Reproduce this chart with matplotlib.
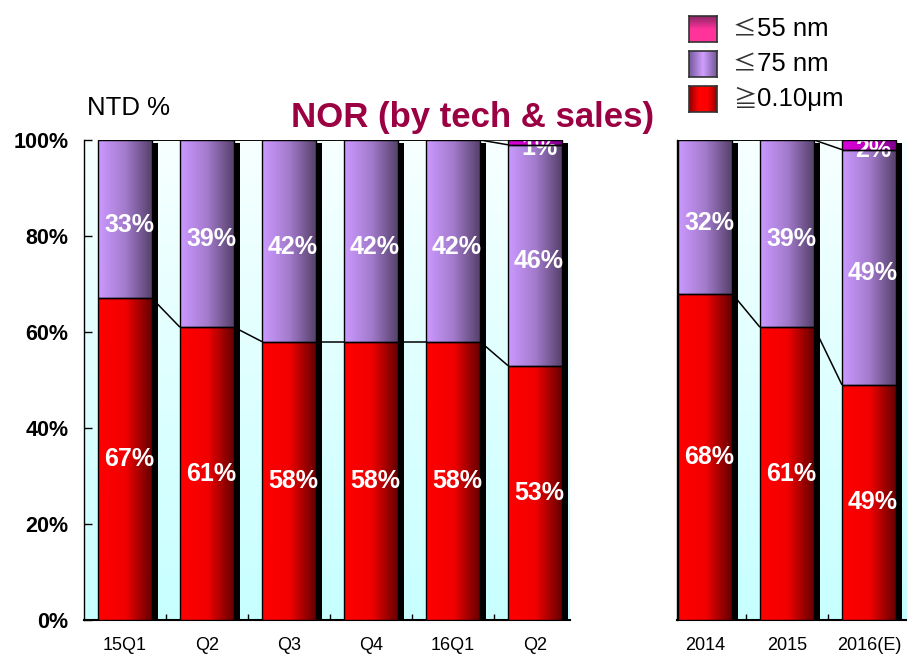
import numpy as np
import matplotlib
matplotlib.use('Agg')
import matplotlib.pyplot as plt
from matplotlib.patches import Rectangle

plt.rcParams['font.family'] = ['Liberation Sans', 'DejaVu Sans']

# ---------------- data ----------------
quarters = ['15Q1', 'Q2', 'Q3', 'Q4', '16Q1', 'Q2']
q_ge010 = [67, 61, 58, 58, 58, 53]
q_le75 = [33, 39, 42, 42, 42, 46]
q_le55 = [0, 0, 0, 0, 0, 1]

years = ['2014', '2015', '2016(E)']
y_ge010 = [68, 61, 49]
y_le75 = [32, 39, 49]
y_le55 = [0, 0, 2]

series_symbols = ['≤', '≤', '≧']
series_names = ['55 nm', '75 nm', '0.10μm']
y_ticks = [0, 20, 40, 60, 80, 100]
y_ticklabels = ['0%', '20%', '40%', '60%', '80%', '100%']
title = 'NOR (by tech & sales)'
unit_label = 'NTD %'

# ---------------- style ----------------
W, H = 907, 655
PX = 82.0          # pixels per category slot
BAR_W = 0.66
SHADOW_DX = 6 / PX
RED = [(1.0, 0.0, 0.0), (0.95, 0.0, 0.0), (0.38, 0.0, 0.0)]
PURPLE = [(0.80, 0.60, 1.0), (0.64, 0.48, 0.80), (0.33, 0.25, 0.41)]
PINK = [(0.85, 0.0, 0.85), (0.75, 0.0, 0.75), (0.50, 0.0, 0.55)]
BG_TOP = np.array([0.97, 1.0, 1.0])
BG_BOT = np.array([0.78, 1.0, 1.0])
LABEL_FS = 18

fig = plt.figure(figsize=(W / 100, H / 100), dpi=100)


def hgrad(stops, n=64):
    stops = np.array(stops)
    t = np.linspace(0, 1, n)
    pos = np.linspace(0, 1, len(stops))
    rgb = np.stack([np.interp(t, pos, stops[:, c]) for c in range(3)], axis=-1)
    return rgb[None, :, :]


def draw_panel(ax, cats, ge010, le75, le55, xlim):
    ax.set_xlim(*xlim)
    ax.set_ylim(0, 100)
    # background vertical gradient
    t = np.linspace(0, 1, 128)[:, None]
    bg = BG_BOT[None, :] * (1 - t) + BG_TOP[None, :] * t
    ax.imshow(bg[:, None, :], extent=(xlim[0], xlim[1], 0, 100), origin='lower',
              aspect='auto', zorder=0, interpolation='bilinear')
    n = len(cats)
    tops = []
    for i in range(n):
        segs = [(ge010[i], RED), (le75[i], PURPLE), (le55[i], PINK)]
        x0 = i - BAR_W / 2
        total = sum(s[0] for s in segs)
        ax.add_patch(Rectangle((x0 + SHADOW_DX, 0), BAR_W, total - 0.6,
                               facecolor='black', edgecolor='none', zorder=2))
        b = 0
        cum = []
        for v, cols in segs:
            if v > 0:
                ax.imshow(hgrad(cols), extent=(x0, x0 + BAR_W, b, b + v),
                          aspect='auto', zorder=3, interpolation='bilinear')
                ax.add_patch(Rectangle((x0, b), BAR_W, v, facecolor='none',
                                       edgecolor='black', linewidth=1.0, zorder=4))
            b += v
            cum.append(b)
        tops.append(cum)
        # labels
        lx = i + 0.05
        ax.text(lx, ge010[i] / 2, f'{ge010[i]}%', color='white', fontsize=LABEL_FS,
                fontweight='bold', ha='center', va='center', zorder=6)
        ax.text(lx, ge010[i] + le75[i] / 2 - 1.2, f'{le75[i]}%', color='white',
                fontsize=LABEL_FS, fontweight='bold', ha='center', va='center', zorder=6)
        if le55[i] > 0:
            ax.text(lx, ge010[i] + le75[i] + le55[i] / 2 - 1.1, f'{le55[i]}%',
                    color='white', fontsize=LABEL_FS, fontweight='bold', ha='center',
                    va='center', zorder=3.5, clip_on=False)
    # connectors
    for i in range(n - 1):
        for k in range(3):
            ax.plot([i + BAR_W / 2, i + 1 - BAR_W / 2], [tops[i][k], tops[i + 1][k]],
                    color='black', linewidth=1.1, zorder=2.5, solid_capstyle='butt')
    ax.set_xticks(range(n))
    ax.set_xticklabels(cats, fontsize=13)
    ax.set_xticks([i + 0.5 for i in range(n - 1)], minor=True)
    ax.tick_params(axis='x', which='major', length=0, pad=12)
    ax.tick_params(axis='x', which='minor', direction='in', length=4, width=1)
    for s in ['top', 'right']:
        ax.spines[s].set_visible(False)
    ax.spines['left'].set_linewidth(1.0)
    ax.spines['bottom'].set_linewidth(1.5)
    ax.patch.set_facecolor('white')


# left panel
ax1 = fig.add_axes([84 / W, (H - 620) / H, (570 - 84) / W, 480 / H])
draw_panel(ax1, quarters, q_ge010, q_le75, q_le55,
           (-0.5, -0.5 + (570 - 84) / PX))
ax1.set_yticks(y_ticks)
ax1.set_yticklabels(y_ticklabels, fontsize=15.5, fontweight='bold')
ax1.tick_params(axis='y', direction='in', length=6, width=1, pad=11)

# right panel
x_left = -(705 - 677) / PX
ax2 = fig.add_axes([677 / W, (H - 620) / H, (907 - 677) / W, 480 / H])
draw_panel(ax2, years, y_ge010, y_le75, y_le55, (x_left, x_left + (907 - 677) / PX))
ax2.set_yticks([])

# titles
fig.text(473 / W, 1 - 118 / H, title, fontsize=25, fontweight='bold',
         color='#9a0042', ha='center', va='center')
fig.text(87 / W, 1 - 108 / H, unit_label, fontsize=18.5, ha='left', va='center')

# legend
leg_boxes = [
    (16, 'v', [(0.55, 0.15, 0.40), (1.0, 0.2, 0.6), (1.0, 0.2, 0.6)]),
    (51, 'h', [(0.45, 0.35, 0.6), (0.82, 0.62, 1.0), (0.45, 0.35, 0.6)]),
    (86, 'h', [(0.55, 0.0, 0.0), (1.0, 0.0, 0.0), (1.0, 0.0, 0.0), (0.6, 0.0, 0.0)]),
]
for (top, orient, cols), sym, name in zip(leg_boxes, series_symbols, series_names):
    lax = fig.add_axes([689 / W, 1 - (top + 26) / H, 28 / W, 26 / H])
    g = hgrad(cols)
    if orient == 'v':
        g = np.transpose(g, (1, 0, 2))
        lax.imshow(g, aspect='auto', extent=(0, 1, 0, 1), origin='upper',
                   interpolation='bilinear')
    else:
        lax.imshow(g, aspect='auto', extent=(0, 1, 0, 1), interpolation='bilinear')
    lax.set_xticks([])
    lax.set_yticks([])
    for s in lax.spines.values():
        s.set_linewidth(1.2)
        s.set_color('#333333')
    fig.text(733 / W, 1 - (top + 14) / H, sym, fontsize=17, ha='left', va='center',
             family=['Noto Sans CJK JP', 'DejaVu Sans'], color='#333333')
    fig.text(757 / W, 1 - (top + 13) / H, name, fontsize=18.5, ha='left', va='center')

fig.savefig('out.png', dpi=100)
